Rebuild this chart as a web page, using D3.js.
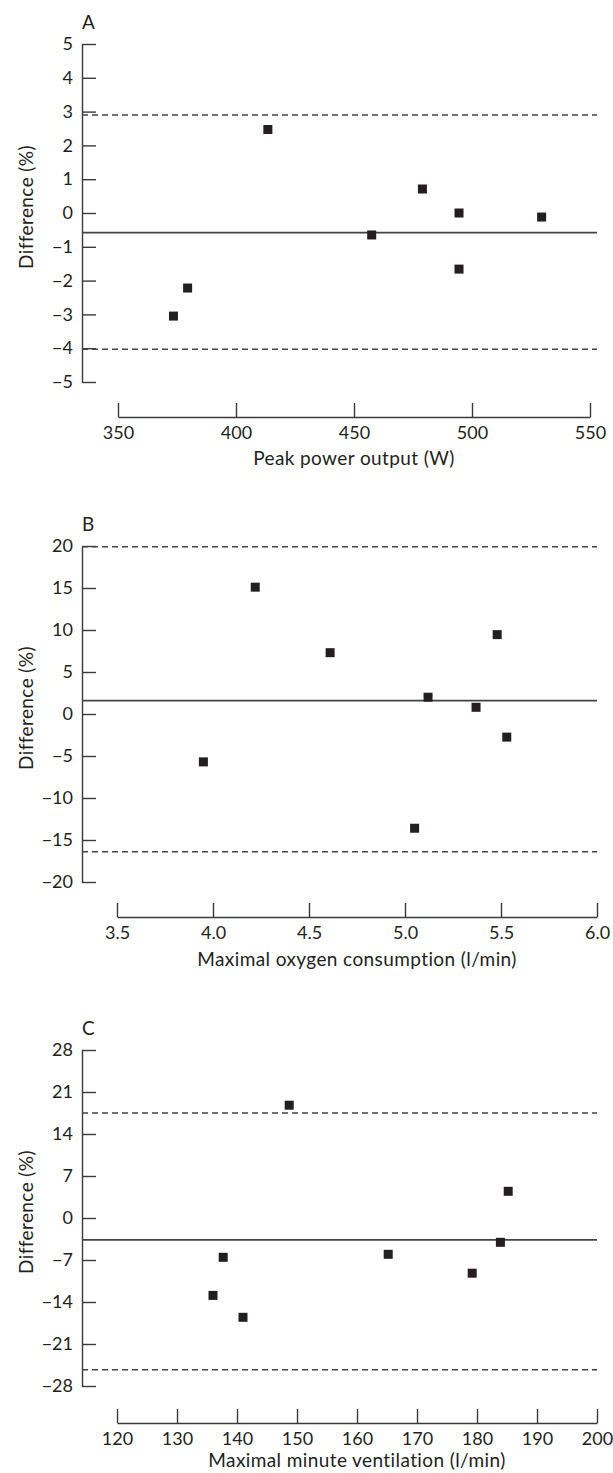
<!DOCTYPE html>
<html>
<head>
<meta charset="utf-8">
<script src="https://cdn.jsdelivr.net/npm/d3@7"></script>
<style>
  body { margin: 0; background: #fff; }
  svg { display: block; }
  text { font-family: Lato, 'Open Sans', sans-serif; fill: #231f20; }
  .title { letter-spacing: 0.4px; }
</style>
</head>
<body>
<svg id="chart"></svg>
<script>
// Panel A: peak power output
const powerX = [373.5, 379.5, 413.5, 457.5, 479, 494.5, 494.5, 529.5];
const powerDiff = [-3.05, -2.22, 2.47, -0.65, 0.71, 0.0, -1.66, -0.12];
const powerMean = -0.58;
const powerLimits = [2.9, -4.03];
const powerXTicks = [350, 400, 450, 500, 550];
const powerYTicks = [-5, -4, -3, -2, -1, 0, 1, 2, 3, 4, 5];

// Panel B: maximal oxygen consumption
const vo2X = [3.95, 4.22, 4.61, 5.05, 5.12, 5.37, 5.48, 5.53];
const vo2Diff = [-5.7, 15.1, 7.3, -13.6, 2.0, 0.8, 9.45, -2.75];
const vo2Mean = 1.59;
const vo2Limits = [19.9, -16.4];
const vo2XTicks = [3.5, 4.0, 4.5, 5.0, 5.5, 6.0];
const vo2YTicks = [-20, -15, -10, -5, 0, 5, 10, 15, 20];

// Panel C: maximal minute ventilation
const veX = [136, 137.7, 141, 148.7, 165.2, 179.2, 183.9, 185.2];
const veDiff = [-12.9, -6.55, -16.55, 18.8, -6.05, -9.2, -4.05, 4.45];
const veMean = -3.65;
const veLimits = [17.5, -25.3];
const veXTicks = [120, 130, 140, 150, 160, 170, 180, 190, 200];
const veYTicks = [-28, -21, -14, -7, 0, 7, 14, 21, 28];

const panelLabels = ['A', 'B', 'C'];
const xTitles = ['Peak power output (W)', 'Maximal oxygen consumption (l/min)', 'Maximal minute ventilation (l/min)'];
const yTitle = 'Difference (%)';

const panels = [
  { x: powerX, y: powerDiff, mean: powerMean, limits: powerLimits, xTicks: powerXTicks, yTicks: powerYTicks, xFmt: d3.format('d'),
    top: 44, bottom: 382, base: 417, left: 118, right: 590, titleDy: 48 },
  { x: vo2X, y: vo2Diff, mean: vo2Mean, limits: vo2Limits, xTicks: vo2XTicks, yTicks: vo2YTicks, xFmt: d3.format('.1f'),
    top: 546, bottom: 882, base: 917, left: 117, right: 597, titleDy: 49 },
  { x: veX, y: veDiff, mean: veMean, limits: veLimits, xTicks: veXTicks, yTicks: veYTicks, xFmt: d3.format('d'),
    top: 1050, bottom: 1386, base: 1423, left: 117, right: 597, titleDy: 44 }
];

const axisX = 82;
const lineEnd = 597;
const fontSize = 19;
const tickFontSize = 18;
const ink = '#231f20';
const axisInk = '#3a3a3a';

const svg = d3.select('#chart')
  .attr('width', 613)
  .attr('height', 1473);

panels.forEach((p, i) => {
  const x = d3.scaleLinear()
    .domain(d3.extent(p.xTicks))
    .range([p.left, p.right]);
  const y = d3.scaleLinear()
    .domain(d3.extent(p.yTicks))
    .range([p.bottom, p.top]);

  const g = svg.append('g');

  // panel letter
  g.append('text')
    .attr('x', axisX)
    .attr('y', p.top - 15)
    .attr('font-size', fontSize)
    .text(panelLabels[i]);

  // y axis, ticks pointing inward
  const yAxis = g.append('g')
    .attr('transform', `translate(${axisX},0)`)
    .call(d3.axisLeft(y).tickValues(p.yTicks).tickSizeInner(-14).tickSizeOuter(0).tickPadding(9));

  // x axis, detached below the plot
  const xAxis = g.append('g')
    .attr('transform', `translate(0,${p.base})`)
    .call(d3.axisBottom(x).tickValues(p.xTicks).tickFormat(p.xFmt).tickSizeInner(-14).tickSizeOuter(0).tickPadding(9));

  [yAxis, xAxis].forEach(a => {
    a.selectAll('path, line').attr('stroke', axisInk).attr('stroke-width', 1.4);
    a.selectAll('text')
      .attr('font-size', tickFontSize)
      .attr('font-family', 'Lato, sans-serif')
      .attr('fill', ink);
  });

  // limits of agreement
  g.selectAll('.limit')
    .data(p.limits)
    .enter()
    .append('line')
    .attr('x1', axisX)
    .attr('x2', lineEnd)
    .attr('y1', d => y(d))
    .attr('y2', d => y(d))
    .attr('stroke', '#444')
    .attr('stroke-width', 1.5)
    .attr('stroke-dasharray', '6,4');

  // mean difference
  g.append('line')
    .attr('x1', axisX)
    .attr('x2', lineEnd)
    .attr('y1', y(p.mean))
    .attr('y2', y(p.mean))
    .attr('stroke', '#444')
    .attr('stroke-width', 1.8);

  // points
  const s = 9;
  g.selectAll('.pt')
    .data(p.x.map((v, j) => [v, p.y[j]]))
    .enter()
    .append('rect')
    .attr('x', d => x(d[0]) - s / 2)
    .attr('y', d => y(d[1]) - s / 2)
    .attr('width', s)
    .attr('height', s)
    .attr('fill', ink);

  // axis titles
  g.append('text')
    .attr('class', 'title')
    .attr('x', (p.left + p.right) / 2)
    .attr('y', p.base + p.titleDy)
    .attr('text-anchor', 'middle')
    .attr('font-size', fontSize)
    .text(xTitles[i]);

  g.append('text')
    .attr('class', 'title')
    .attr('transform', `translate(33,${(p.top + p.bottom) / 2 - 6}) rotate(-90)`)
    .attr('text-anchor', 'middle')
    .attr('font-size', fontSize)
    .text(yTitle);
});
</script>
</body>
</html>
